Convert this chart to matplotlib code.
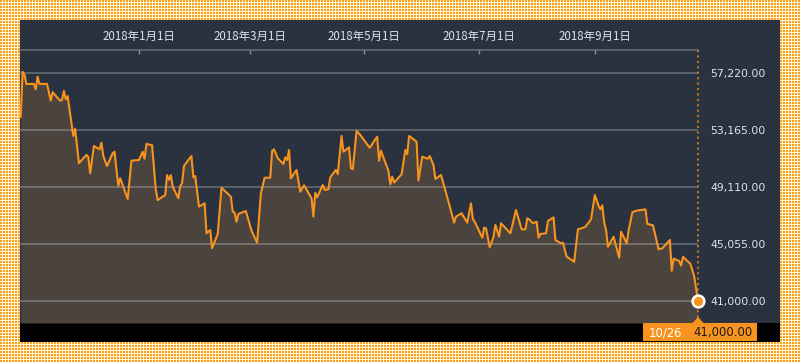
import numpy as np
import pandas as pd
import matplotlib
matplotlib.use("Agg")
import matplotlib.pyplot as plt
from matplotlib.patches import Rectangle, Polygon

# day offsets from 2018-01-01 and closing values
day_offsets = [
    -63, -62, -61, -60, -56, -55, -54, -53, -49, -47,
    -46, -42, -41, -40, -39, -38, -35, -34, -32, -28,
    -27, -26, -24, -21, -20, -19, -17, -14, -13, -11,
    -10, -6, -4, 0, 2, 3, 4, 7, 9, 10,
    14, 15, 16, 17, 18, 21, 22, 23, 24, 27,
    28, 29, 30, 32, 35, 36, 38, 39, 42, 44,
    49, 50, 51, 52, 53, 57, 60, 63, 65, 67,
    70, 71, 72, 74, 77, 78, 79, 80, 81, 84,
    86, 88, 92, 93, 94, 95, 98, 99, 101, 102,
    105, 106, 108, 109, 112, 113, 114, 116, 118,
    123, 127, 128, 129, 133, 134, 135, 136, 140, 142,
    143, 144, 148, 149, 151, 154, 155, 157, 158, 161,
    165, 168, 169, 172, 175, 177, 178, 179, 183, 184,
    185, 187, 189, 190, 192, 193, 198, 201, 204, 206,
    207, 208,
    210, 212, 213, 214, 217, 218, 221, 222, 225, 226,
    228, 232, 234, 236, 238, 241, 243, 245, 246, 247,
    248, 249, 250, 253, 256, 257, 260, 261, 263, 265,
    270, 271, 274, 277, 279, 283, 284, 285, 288, 289,
    290, 294, 296, 298,
]
closes = [
    54090, 57290, 57060, 56420, 56420, 56040, 56940, 56420, 56420, 55230,
    55830, 55230, 55280, 55920, 55330, 55560, 52720, 53240, 50780, 51370,
    51240, 50060, 52010, 51770, 52240, 51290, 50580, 51490, 51600, 49160,
    49710, 48240, 50960, 51010, 51600, 51100, 52150, 52060, 48880, 48160,
    48520, 49940, 49590, 49940, 49110, 48290, 49160, 49350, 50580, 51130,
    51290, 49780, 49870, 47690, 47930, 45800, 46030, 44730, 45750, 49040,
    48400, 47330, 47260, 46620, 47170, 47380, 45980, 45130, 48640, 49750,
    49750, 51670, 51770, 51130, 50730, 51200, 51010, 51720, 49710, 50300,
    48750, 49210, 48290, 46980, 48680, 48360, 49230, 48880, 48930, 49780,
    50300, 50010, 52720, 51600, 51910, 50420, 50350, 53070, 52790,
    51880, 52670, 50960, 51670, 50230, 49280, 49820, 49400, 49990, 51720,
    51420, 52720, 52310, 49540, 51240, 51100, 51290, 50650, 49660, 49940,
    48040, 46550, 46980, 47220, 46550, 47930, 46790, 46620, 45480, 46190,
    46150, 44800, 45550, 46390, 45550, 46510, 45800, 47450, 46080, 46080,
    46860, 46790,
    46510, 46620, 45480, 45750, 45800, 46670, 46930, 45320, 45080, 45130,
    44130, 43770, 46080, 46150, 46260, 46790, 48520, 47740, 47500, 47790,
    46550, 46030, 44840, 45550, 44060, 45910, 45080, 45980, 47290, 47400,
    47500, 46460, 46360, 44660, 44730, 45320, 43130, 43990, 43820, 43490,
    44130, 43610, 42710, 41000,
]

tick_dates = ["2018-01-01", "2018-03-01", "2018-05-01", "2018-07-01", "2018-09-01"]
tick_labels = ["2018年1月1日", "2018年3月1日", "2018年5月1日", "2018年7月1日", "2018年9月1日"]
y_ticks = [41000, 45055, 49110, 53165, 57220]
y_labels = ["41,000.00", "45,055.00", "49,110.00", "53,165.00", "57,220.00"]
last_label = "10/26"
last_value = "41,000.00"

ORANGE = "#f7931e"
PANEL = "#29323e"
FILL = "#4a433e"
TEXT = "#dde3ea"

plt.rcParams["font.family"] = ["Noto Sans CJK JP", "DejaVu Sans"]

base = pd.Timestamp("2018-01-01")
dates = base + pd.to_timedelta(day_offsets, unit="D")
W, H = 800, 362

fig = plt.figure(figsize=(8, 3.62), dpi=100)

# background: dotted yellow border, dark panel, black strip
bg = fig.add_axes([0, 0, 1, 1], zorder=0)
pattern = np.empty((H, W, 3))
pattern[:] = np.array([255, 246, 214]) / 255
yy, xx = np.mgrid[0:H, 0:W]
dots = (yy % 3 < 2) & (xx % 3 < 2)
pattern[dots] = np.array([250, 160, 30]) / 255
bg.imshow(pattern, extent=(0, W, H, 0), interpolation="nearest", aspect="auto")
bg.add_patch(Rectangle((20, 20), 760, 322, facecolor=PANEL, edgecolor="none"))
bg.add_patch(Rectangle((20, 323), 760, 19, facecolor="black", edgecolor="none"))
bg.set_xlim(0, W)
bg.set_ylim(H, 0)
bg.axis("off")

# price axes
ax = fig.add_axes([20 / W, (H - 323) / H, 678 / W, 273 / H], zorder=1)
ax.set_facecolor("none")
y_lo, y_hi = 39414, 58835
ax.set_ylim(y_lo, y_hi)
ax.set_xlim(base + pd.Timedelta(days=-63.4), dates[-1])

ax.fill_between(dates, closes, y_lo, color=FILL, linewidth=0, zorder=1)
ax.plot(dates, closes, color=ORANGE, linewidth=1.5, zorder=4)
ax.axvline(dates[-1], color="#c27428", linestyle=(0, (1, 1.6)), linewidth=1.5,
           clip_on=False, zorder=3)
ax.plot(dates[-1], closes[-1], "o", ms=8.5, mfc=ORANGE, mec="white", mew=1.8,
        clip_on=False, zorder=6)

ax.set_yticks(y_ticks)
ax.set_yticklabels(y_labels, family="DejaVu Sans")
ax.yaxis.tick_right()
ax.tick_params(axis="y", length=0, pad=9, labelsize=7.8, labelcolor=TEXT)
ax.grid(axis="y", color="white", alpha=0.3, linewidth=1.1, zorder=2)
ax.set_axisbelow(False)

ax.set_xticks(pd.to_datetime(tick_dates))
ax.set_xticklabels(tick_labels)
ax.xaxis.tick_top()
ax.tick_params(axis="x", direction="in", length=3, width=1, color="#8a8f96",
               pad=5, labelsize=8.3, labelcolor=TEXT)

for side in ["left", "right", "bottom"]:
    ax.spines[side].set_visible(False)
ax.spines["top"].set_color("#6b7078")
ax.spines["top"].set_linewidth(1.1)

# last value badge
ov = fig.add_axes([0, 0, 1, 1], zorder=2)
ov.set_xlim(0, W)
ov.set_ylim(H, 0)
ov.axis("off")
ov.add_patch(Rectangle((643, 323), 114, 18, facecolor=ORANGE, edgecolor="none"))
ov.add_patch(Polygon([(692, 323.5), (704, 323.5), (698, 317)], closed=True,
                     facecolor=ORANGE, edgecolor="none"))
ov.text(665, 332.5, last_label, color="white", fontsize=8.4, ha="center", va="center",
        family="DejaVu Sans")
ov.text(723, 332.5, last_value, color="#1a1a1a", fontsize=8.4, ha="center", va="center",
        family="DejaVu Sans")

fig.savefig("out.png", dpi=100)
